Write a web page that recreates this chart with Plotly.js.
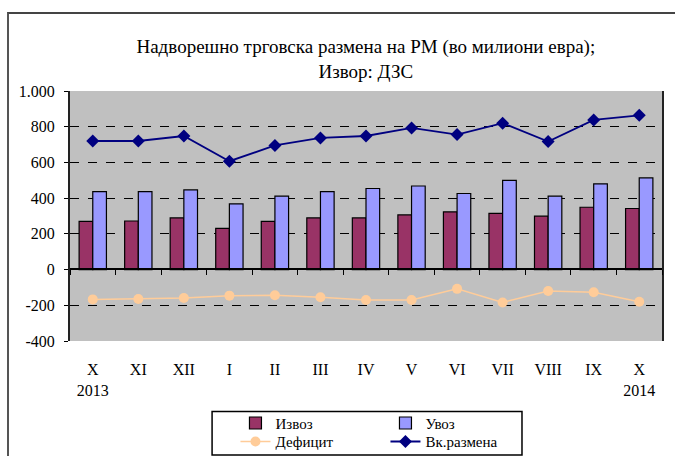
<!DOCTYPE html>
<html>
<head>
<meta charset="utf-8">
<script src="https://cdn.plot.ly/plotly-3.0.1.min.js"></script>
<style>
  body { margin: 0; background: #fff; }
  #wrap { position: relative; width: 675px; height: 456px; overflow: hidden; }
  #frame { position: absolute; left: 7px; top: 12px; width: 700px; height: 460px;
           border-top: 2px solid #444; border-left: 2px solid #555; pointer-events: none; }
</style>
</head>
<body>
<div id="wrap">
  <div id="chart"></div>
  <div id="frame"></div>
</div>
<script>
// Foreign trade of RM, millions of euros, X 2013 - X 2014
// source: State Statistical Office (ДЗС)

let months = ['X 2013', 'XI', 'XII', 'I', 'II', 'III', 'IV', 'V', 'VI', 'VII', 'VIII', 'IX', 'X 2014'];
let month_labels = ['X<br>2013', 'XI', 'XII', 'I', 'II', 'III', 'IV', 'V', 'VI', 'VII', 'VIII', 'IX', 'X<br>2014'];

let izvoz = [270, 272, 289, 231, 270, 289, 289, 306, 323, 315, 299, 349, 342];
let uvoz = [437, 437, 446, 368, 411, 437, 454, 468, 426, 499, 411, 480, 513];
let deficit = [-167, -165, -159, -146, -144, -155, -170, -170, -108, -184, -120, -127, -180];
let razmena = [720, 720, 748, 607, 695, 737, 748, 793, 756, 820, 717, 838, 864];

let y_ticks = [-400, -200, 0, 200, 400, 600, 800, 1000];
let y_labels = ['-400', '-200', '0', '200', '400', '600', '800', '1.000'];

var font = 'Liberation Serif, serif';

var trace1 = {
  x: months,
  y: izvoz,
  name: 'Извоз',
  type: 'bar',
  marker: {color: '#993366', line: {color: '#000', width: 1.2}},
  legend: 'legend'
};

var trace2 = {
  x: months,
  y: uvoz,
  name: 'Увоз',
  type: 'bar',
  marker: {color: '#9999FF', line: {color: '#000', width: 1.2}},
  legend: 'legend'
};

var trace3 = {
  x: months,
  y: deficit,
  name: 'Дефицит',
  type: 'scatter',
  mode: 'lines+markers',
  xaxis: 'x2',
  line: {color: '#FFCC99', width: 1.5},
  marker: {color: '#FFCC99', symbol: 'circle', size: 10},
  legend: 'legend2'
};

var trace4 = {
  x: months,
  y: razmena,
  name: 'Вк.размена',
  type: 'scatter',
  mode: 'lines+markers',
  line: {color: '#000080', width: 1.8},
  marker: {color: '#000080', symbol: 'diamond', size: 10},
  legend: 'legend2'
};

var data = [trace1, trace2, trace3, trace4];

var layout = {
  width: 675,
  height: 456,
  margin: {l: 70, r: 13, t: 91, b: 115, autoexpand: false},
  paper_bgcolor: '#fff',
  plot_bgcolor: '#C0C0C0',
  font: {family: font, size: 16, color: '#000'},
  title: {
    text: 'Надворешно трговска размена на РМ (во милиони евра);<br>Извор: ДЗС',
    font: {family: font, size: 19},
    x: 0.542, xanchor: 'center',
    y: 0.884, yanchor: 'top'
  },
  barmode: 'group',
  bargap: 0.4,
  bargroupgap: 0,
  xaxis: {
    type: 'category',
    range: [-0.5, 12.5],
    tickvals: months,
    ticktext: month_labels,
    ticks: '',
    showline: false,
    showgrid: false,
    ticklabelstandoff: 17,
    tickfont: {family: font, size: 16}
  },
  xaxis2: {
    type: 'category',
    overlaying: 'x',
    anchor: 'free',
    position: 0.288,
    range: [-0.5, 12.5],
    showticklabels: false,
    ticks: 'outside',
    tickson: 'boundaries',
    ticklen: 5,
    tickcolor: '#000',
    showline: true,
    linecolor: '#000',
    linewidth: 2,
    showgrid: false
  },
  yaxis: {
    range: [-400, 1000],
    tickvals: y_ticks,
    ticktext: y_labels,
    ticks: 'outside',
    ticklen: 4,
    tickcolor: '#000',
    ticklabelstandoff: 6,
    showgrid: true,
    gridcolor: '#000',
    griddash: 'dash',
    gridwidth: 1,
    zeroline: false,
    showline: true,
    mirror: true,
    linecolor: '#222',
    linewidth: 2,
    tickfont: {family: font, size: 16}
  },
  showlegend: true,
  legend: {
    orientation: 'h',
    x: 0.2795, xanchor: 'left',
    y: -0.263, yanchor: 'top',
    entrywidth: 105,
    bgcolor: 'rgba(0,0,0,0)',
    font: {family: font, size: 15}
  },
  legend2: {
    orientation: 'h',
    x: 0.2795, xanchor: 'left',
    y: -0.337, yanchor: 'top',
    entrywidth: 105,
    bgcolor: 'rgba(0,0,0,0)',
    font: {family: font, size: 15}
  },
  shapes: [{
    type: 'rect', xref: 'paper', yref: 'paper',
    x0: 0.240, x1: 0.7635, y0: -0.456, y1: -0.282,
    line: {color: '#000', width: 1.5}
  }]
};

Plotly.newPlot('chart', data, layout, {displayModeBar: false});
</script>
</body>
</html>
